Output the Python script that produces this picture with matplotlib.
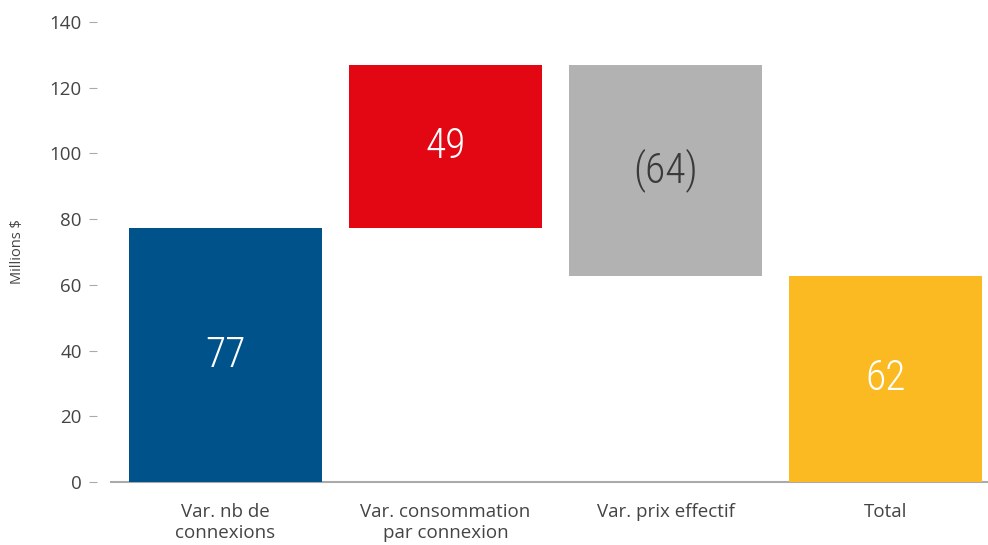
import matplotlib
matplotlib.use("Agg")
import matplotlib.pyplot as plt
from matplotlib import font_manager

# données du graphique en cascade (millions $)
categories = ["Var. nb de\nconnexions", "Var. consommation\npar connexion", "Var. prix effectif", "Total"]
variations = [77.3, 49.6, -64.2]
etiquettes = ["77", "49", "(64)", "62"]
couleurs = ["#00528A", "#E30613", "#B2B2B2", "#FBBA22"]
couleurs_texte = ["white", "white", "#3a3a3a", "white"]

# police étroite pour les étiquettes des barres, si disponible
noms = {f.name for f in font_manager.fontManager.ttflist}
police_etroite = "DejaVu Sans"
etirement = "condensed"
for nom in ["Roboto Condensed", "Liberation Sans Narrow", "Open Sans Condensed", "Noto Sans Condensed"]:
    if nom in noms:
        police_etroite = nom
        etirement = "normal"
        break

# bases et hauteurs des barres
bases = []
hauteurs = []
cumul = 0
for v in variations:
    if v >= 0:
        bases.append(cumul)
        hauteurs.append(v)
    else:
        bases.append(cumul + v)
        hauteurs.append(-v)
    cumul += v
bases.append(0)
hauteurs.append(cumul)

fig = plt.figure(figsize=(9.88, 5.45), dpi=100)
ax = fig.add_axes([111 / 988, 1 - 482 / 545, 877 / 988, 460 / 545])

x = range(len(categories))
barres = ax.bar(x, hauteurs, bottom=bases, width=0.877, color=couleurs)

for i, b in enumerate(barres):
    ax.text(b.get_x() + b.get_width() / 2, bases[i] + hauteurs[i] / 2, etiquettes[i],
            ha="center", va="center", fontsize=30, color=couleurs_texte[i],
            family=police_etroite, fontstretch=etirement, fontweight="light")

ax.set_xlim(-0.52, 3.465)
ax.set_ylim(0, 140)
ax.set_yticks(range(0, 141, 20))
ax.set_xticks(list(x))
ax.set_xticklabels(categories, fontsize=13.5, color="#444444", family="Open Sans", linespacing=1.25)

for s in ["top", "right"]:
    ax.spines[s].set_visible(False)
ax.spines["left"].set_position(("outward", 10))
ax.spines["left"].set_visible(False)
ax.spines["bottom"].set_color("#aaaaaa")
ax.spines["bottom"].set_linewidth(1.5)
ax.spines["bottom"].set_zorder(0)

ax.tick_params(axis="y", length=6, color="#aaaaaa", labelsize=13.5, labelcolor="#444444", pad=5)
ax.tick_params(axis="x", length=0, pad=15)
for lab in ax.get_yticklabels():
    lab.set_family("Open Sans")

ax.set_ylabel("Millions $", fontsize=10.5, color="#444444", family="Open Sans")
ax.yaxis.set_label_coords(-86 / 877, 0.5)

fig.savefig("out.png", dpi=100)
